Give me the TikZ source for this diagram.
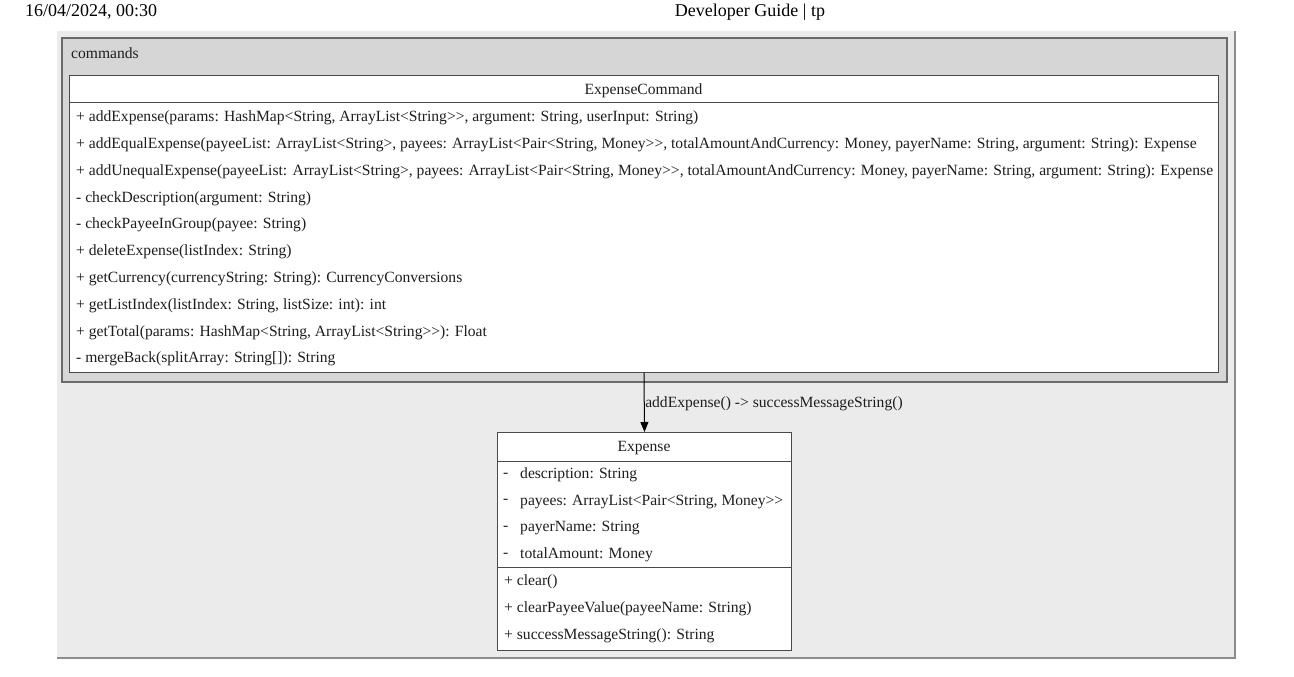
\documentclass[tikz,border=0pt]{standalone}
\usepackage{fontspec}
\setmainfont{Liberation Serif}[Ligatures=TeXOff]
\usetikzlibrary{arrows.meta, positioning}
\definecolor{sheet}{HTML}{EBEBEB}
\definecolor{pkgfill}{HTML}{D6D6D6}
\definecolor{pkgedge}{HTML}{6A6A6A}
\definecolor{edge}{HTML}{4A4A4A}
\definecolor{sheetedge}{HTML}{8C8C8C}
\definecolor{ink}{HTML}{1E1E1E}
\tikzset{
  font=\fontsize{15.6}{18}\selectfont,
  >={Triangle[length=10pt, width=8pt]},
  %
  classbox/.style={draw=edge, line width=1pt, fill=white, inner sep=0pt,
                   anchor=north west},
  classline/.style={draw=edge, line width=1pt},
  row/.style={anchor=west, inner sep=0pt, text=ink},
  title/.style={inner sep=0pt, text=ink},
  pagehead/.style={inner sep=0pt, text=black, font=\fontsize{18}{21}\selectfont},
  %
  flow/.style={draw=black, line width=1pt, ->},
  lbl/.style={anchor=west, inner sep=0.5pt, text=ink, yshift=-1.5pt},
}

\begin{document}
\begin{tikzpicture}[x=1pt, y=-1pt]
  \useasboundingbox (0,0) rectangle (1294,677);

  % --- page header -------------------------------------------------------
  \node[pagehead, anchor=west] (stamp) at (25,12) {16/04/2024, 00:30};
  \node[pagehead] (doctitle) at (750,12) {Developer Guide | tp};

  % --- diagram sheet -----------------------------------------------------
  \fill[sheet] (57,31) rectangle (1235,658);
  \draw[draw=sheetedge, line width=1.2pt] (1235,31) -- (1235,658) -- (57,658);

  % --- package commands --------------------------------------------------
  \draw[draw=pkgedge, fill=pkgfill, line width=1.8pt] (62,38) rectangle (1227,382);
  \node[row] (pkgname) at (71,53) {commands};

  % --- class ExpenseCommand ----------------------------------------------
  \node[classbox, minimum width=1149pt, minimum height=297pt] (cmd) at (69,75) {};
  \node[title] (cmdtitle) at (643.5,91) {ExpenseCommand};
  \draw[classline] (69,103) -- (1218,103);
  \foreach \txt [count=\i from 0] in {
    {+ addExpense(params: HashMap<String, ArrayList<String>>, argument: String, userInput: String)},
    {+ addEqualExpense(payeeList: ArrayList<String>, payees: ArrayList<Pair<String, Money>>, totalAmountAndCurrency: Money, payerName: String, argument: String): Expense},
    {+ addUnequalExpense(payeeList: ArrayList<String>, payees: ArrayList<Pair<String, Money>>, totalAmountAndCurrency: Money, payerName: String, argument: String): Expense},
    {- checkDescription(argument: String)},
    {- checkPayeeInGroup(payee: String)},
    {+ deleteExpense(listIndex: String)},
    {+ getCurrency(currencyString: String): CurrencyConversions},
    {+ getListIndex(listIndex: String, listSize: int): int},
    {+ getTotal(params: HashMap<String, ArrayList<String>>): Float},
    {- mergeBack(splitArray: String[]): String}}
    \node[row] (cmdrow\i) at (76,118+26.8*\i) {\txt};

  % --- class Expense -----------------------------------------------------
  \node[classbox, minimum width=294pt, minimum height=218pt] (exp) at (497,432) {};
  \node[title] (exptitle) at (644,448) {Expense};
  \draw[classline] (497,461) -- (791,461);
  \draw[classline] (497,567) -- (791,567);
  \foreach \txt [count=\i from 0] in {
    {description: String},
    {payees: ArrayList<Pair<String, Money>>},
    {payerName: String},
    {totalAmount: Money}} {
    \node[row] (expvis\i) at (503,475+26.7*\i) {-};
    \node[row] (expattr\i) at (520,475+26.7*\i) {\txt};
  }
  \foreach \txt [count=\i from 0] in {
    {+ clear()},
    {+ clearPayeeValue(payeeName: String)},
    {+ successMessageString(): String}}
    \node[row] (expop\i) at (504,582+27*\i) {\txt};

  % --- dependency --------------------------------------------------------
  \draw[flow] (cmd.south) -- node[lbl] (calllbl) {addExpense() -> successMessageString()} (exp.north);

\end{tikzpicture}
\end{document}
